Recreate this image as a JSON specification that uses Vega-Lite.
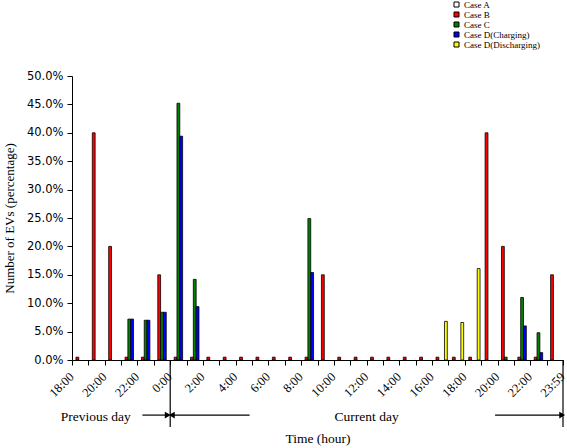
{
  "$schema": "https://vega.github.io/schema/vega-lite/v6.json",
  "width": 491,
  "height": 284,
  "autosize": {"type": "none"},
  "padding": {"left": 72, "top": 76, "right": 4, "bottom": 88},
  "background": "white",
  "config": {
    "view": {"stroke": null}
  },
  "datasets": {
    "bars": [
      {"slot": 0, "case": "Case B", "v": 0.5},
      {"slot": 1, "case": "Case B", "v": 40},
      {"slot": 2, "case": "Case B", "v": 20},
      {"slot": 3, "case": "Case B", "v": 0.5},
      {"slot": 3, "case": "Case C", "v": 7.2},
      {"slot": 3, "case": "Case D(Charging)", "v": 7.2},
      {"slot": 4, "case": "Case B", "v": 0.5},
      {"slot": 4, "case": "Case C", "v": 7.0},
      {"slot": 4, "case": "Case D(Charging)", "v": 7.0},
      {"slot": 5, "case": "Case B", "v": 15},
      {"slot": 5, "case": "Case C", "v": 8.4},
      {"slot": 5, "case": "Case D(Charging)", "v": 8.4},
      {"slot": 6, "case": "Case B", "v": 0.5},
      {"slot": 6, "case": "Case C", "v": 45.2},
      {"slot": 6, "case": "Case D(Charging)", "v": 39.4},
      {"slot": 7, "case": "Case B", "v": 0.5},
      {"slot": 7, "case": "Case C", "v": 14.2},
      {"slot": 7, "case": "Case D(Charging)", "v": 9.4},
      {"slot": 8, "case": "Case B", "v": 0.5},
      {"slot": 9, "case": "Case B", "v": 0.5},
      {"slot": 10, "case": "Case B", "v": 0.5},
      {"slot": 11, "case": "Case B", "v": 0.5},
      {"slot": 12, "case": "Case B", "v": 0.5},
      {"slot": 13, "case": "Case B", "v": 0.5},
      {"slot": 14, "case": "Case B", "v": 0.5},
      {"slot": 14, "case": "Case C", "v": 24.9},
      {"slot": 14, "case": "Case D(Charging)", "v": 15.4},
      {"slot": 15, "case": "Case B", "v": 15},
      {"slot": 16, "case": "Case B", "v": 0.5},
      {"slot": 17, "case": "Case B", "v": 0.5},
      {"slot": 18, "case": "Case B", "v": 0.5},
      {"slot": 19, "case": "Case B", "v": 0.5},
      {"slot": 20, "case": "Case B", "v": 0.5},
      {"slot": 21, "case": "Case B", "v": 0.5},
      {"slot": 22, "case": "Case B", "v": 0.5},
      {"slot": 22, "case": "Case D(Discharging)", "v": 6.8},
      {"slot": 23, "case": "Case B", "v": 0.5},
      {"slot": 23, "case": "Case D(Discharging)", "v": 6.6},
      {"slot": 24, "case": "Case B", "v": 0.5},
      {"slot": 24, "case": "Case D(Discharging)", "v": 16.1},
      {"slot": 25, "case": "Case B", "v": 40},
      {"slot": 26, "case": "Case B", "v": 20},
      {"slot": 26, "case": "Case C", "v": 0.5},
      {"slot": 27, "case": "Case B", "v": 0.5},
      {"slot": 27, "case": "Case C", "v": 11.0},
      {"slot": 27, "case": "Case D(Charging)", "v": 6.0},
      {"slot": 28, "case": "Case B", "v": 0.5},
      {"slot": 28, "case": "Case C", "v": 4.8},
      {"slot": 28, "case": "Case D(Charging)", "v": 1.3},
      {"slot": 29, "case": "Case B", "v": 15}
    ],
    "seps": [{"x": 6}, {"x": 30}],
    "arrows": [
      {"x": 4.3, "x2": 5.85, "head": "right"},
      {"x": 10.85, "x2": 6.1, "head": "left"},
      {"x": 25.85, "x2": 29.95, "head": "right"}
    ],
    "labels": [
      {"x": 1.45, "text": "Previous day"},
      {"x": 18, "text": "Current day"}
    ]
  },
  "layer": [
    {
      "data": {"name": "bars"},
      "mark": {"type": "bar", "stroke": "black", "strokeWidth": 0.8},
      "encoding": {
        "x": {
          "field": "slot", "type": "ordinal",
          "scale": {"domain": [0,1,2,3,4,5,6,7,8,9,10,11,12,13,14,15,16,17,18,19,20,21,22,23,24,25,26,27,28,29], "paddingInner": 0, "paddingOuter": 0},
          "axis": null
        },
        "xOffset": {
          "field": "case", "type": "nominal",
          "scale": {"domain": ["Case A", "Case B", "Case C", "Case D(Charging)", "Case D(Discharging)"], "paddingInner": 0, "paddingOuter": 0.4}
        },
        "y": {
          "field": "v", "type": "quantitative",
          "scale": {"domain": [0, 50], "nice": false},
          "axis": {
            "title": "Number of EVs (percentage)",
            "titleFont": "Liberation Serif", "titleFontSize": 13, "titleFontWeight": "normal", "titleColor": "black",
            "titleX": -63, "titleY": 142, "titleAngle": 270, "titleAlign": "center", "titleBaseline": "middle",
            "values": [0,5,10,15,20,25,30,35,40,45,50],
            "labelExpr": "format(datum.value, '.1f') + '%'",
            "labelOverlap": false,
            "labelFont": "DejaVu Sans", "labelFontSize": 11.5, "labelPadding": 4, "labelColor": "black",
            "tickSize": 5, "tickColor": "black", "domainColor": "black", "grid": false
          }
        },
        "color": {
          "field": "case", "type": "nominal",
          "scale": {"domain": ["Case A", "Case B", "Case C", "Case D(Charging)", "Case D(Discharging)"], "range": ["#FFFFFF", "#FF0000", "#008000", "#0000FF", "#FFFF00"]},
          "legend": {
            "title": null, "orient": "none", "legendX": 380, "legendY": -76,
            "symbolType": "square", "symbolSize": 25, "symbolStrokeColor": "black", "symbolStrokeWidth": 1,
            "labelFont": "Liberation Serif", "labelFontSize": 9, "labelColor": "black", "labelOffset": 3,
            "rowPadding": -1.5
          }
        }
      }
    },
    {
      "data": {"name": "seps"},
      "mark": {"type": "rule", "color": "black", "strokeWidth": 1.2},
      "encoding": {
        "x": {
          "field": "x", "type": "quantitative",
          "scale": {"domain": [0, 30], "nice": false, "zero": false},
          "axis": {
            "title": "Time (hour)",
            "titleFont": "Liberation Serif", "titleFontSize": 13.5, "titleFontWeight": "normal", "titleColor": "black",
            "titleY": 82, "titleBaseline": "alphabetic",
            "values": [0,1,2,3,4,5,6,7,8,9,10,11,12,13,14,15,16,17,18,19,20,21,22,23,24,25,26,27,28,29,30],
            "labelExpr": "datum.value == 30 ? '23:59' : (datum.value % 2 == 0 ? ((18 + datum.value) % 24) + ':00' : '')",
            "labelAngle": -45, "labelFont": "Liberation Serif", "labelFontSize": 12.5, "labelColor": "black",
            "labelOverlap": false, "labelFlush": false, "labelPadding": 5, "labelOffset": -5,
            "tickSize": 5, "tickColor": "black", "domainColor": "black", "grid": false
          }
        },
        "y": {"datum": 0, "type": "quantitative", "scale": {"domain": [0, 50], "nice": false}, "axis": null},
        "y2": {"datum": -11.8}
      }
    },
    {
      "data": {"name": "arrows"},
      "mark": {"type": "rule", "color": "black", "strokeWidth": 1.2},
      "encoding": {
        "x": {"field": "x", "type": "quantitative", "scale": {"domain": [0, 30], "nice": false, "zero": false}, "axis": null},
        "x2": {"field": "x2"},
        "y": {"datum": -9.7, "type": "quantitative", "scale": {"domain": [0, 50], "nice": false}, "axis": null}
      }
    },
    {
      "data": {"name": "arrows"},
      "mark": {"type": "point", "filled": true, "color": "black", "size": 45, "opacity": 1},
      "encoding": {
        "x": {"field": "x2", "type": "quantitative", "scale": {"domain": [0, 30], "nice": false, "zero": false}, "axis": null},
        "y": {"datum": -9.7, "type": "quantitative", "scale": {"domain": [0, 50], "nice": false}, "axis": null},
        "shape": {"field": "head", "type": "nominal", "scale": {"domain": ["right", "left"], "range": ["triangle-right", "triangle-left"]}, "legend": null}
      }
    },
    {
      "data": {"name": "labels"},
      "mark": {"type": "text", "font": "Liberation Serif", "fontSize": 13.5, "color": "black", "align": "center", "baseline": "middle"},
      "encoding": {
        "x": {"field": "x", "type": "quantitative", "scale": {"domain": [0, 30], "nice": false, "zero": false}, "axis": null},
        "y": {"datum": -10, "type": "quantitative", "scale": {"domain": [0, 50], "nice": false}, "axis": null},
        "text": {"field": "text"}
      }
    }
  ],
  "resolve": {"scale": {"x": "independent", "y": "independent"}}
}
